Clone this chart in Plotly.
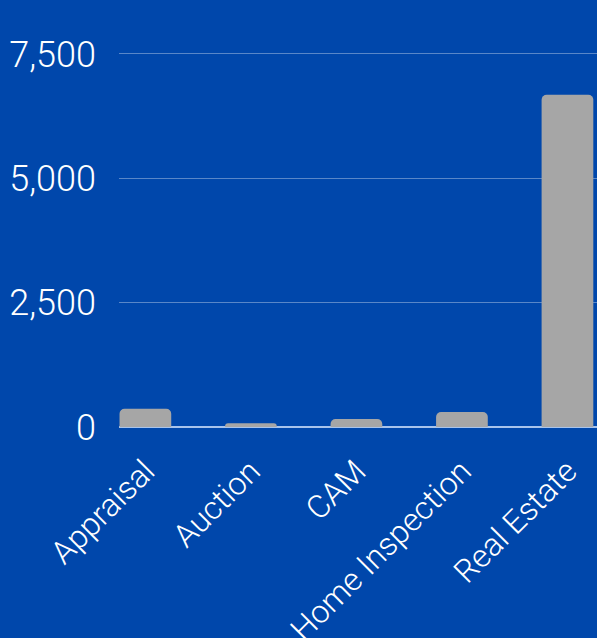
import plotly.graph_objects as go

categories = ["Appraisal", "Auction", "CAM", "Home Inspection", "Real Estate"]
values = [365, 75, 160, 300, 6680]
tick_vals = [0, 2500, 5000, 7500]
tick_text = ["0", "2,500", "5,000", "7,500"]

BG = "#0047AB"

fig = go.Figure(go.Bar(
    x=categories, y=values,
    marker=dict(color="#A6A6A6", line=dict(width=0), cornerradius=5),
    width=0.49,
))

fig.update_layout(
    width=597, height=638,
    paper_bgcolor=BG, plot_bgcolor=BG,
    margin=dict(l=119, r=0, t=44, b=211),
    font=dict(family="Roboto", color="white", weight=300),
    showlegend=False,
    xaxis=dict(
        range=[-0.25, 4.28],
        tickangle=-45,
        tickfont=dict(size=32, family="Roboto", weight=300, color="white"),
        showgrid=False, showline=False, ticks="",
        ticklabelstandoff=18,
        automargin=False,
    ),
    yaxis=dict(
        range=[0, 7700],
        tickvals=tick_vals, ticktext=tick_text,
        tickfont=dict(size=36, family="Roboto", weight=300, color="white"),
        showgrid=True, gridcolor="rgba(255,255,255,0.35)", gridwidth=1,
        zeroline=True, zerolinecolor="#A8C4EC", zerolinewidth=2,
        ticks="", ticklabelstandoff=22,
        automargin=False,
    ),
)

fig.write_html(
    "out.html",
    config={"displayModeBar": False},
    post_script="document.body.style.margin='0';document.body.style.background='%s';" % BG,
)
